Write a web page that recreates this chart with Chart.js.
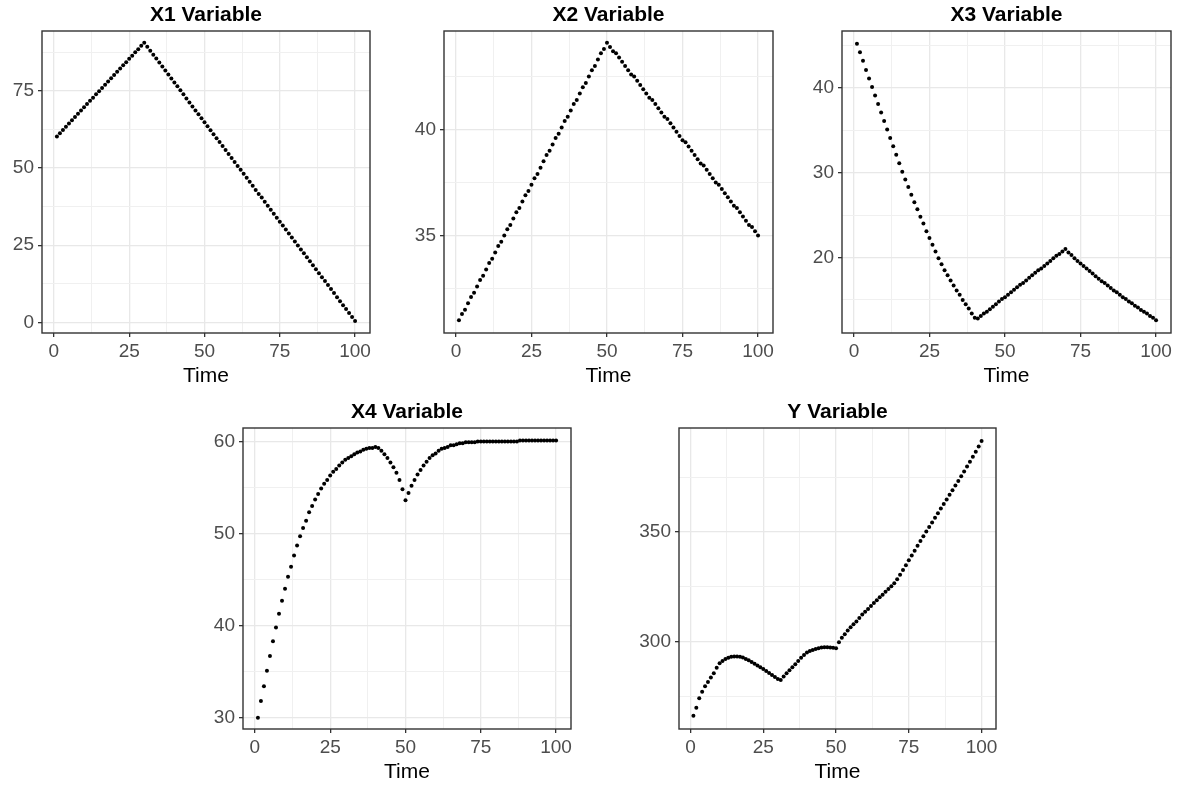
<!DOCTYPE html>
<html><head><meta charset="utf-8">
<script src="https://cdn.jsdelivr.net/npm/chart.js@4.4.1/dist/chart.umd.min.js"></script>
<style>
html,body{margin:0;padding:0;background:#fff;}
body{width:1185px;height:789px;overflow:hidden;position:relative;}
canvas{position:absolute;}
</style></head>
<body>
<script>
// ---- data ----
const TIME = [1,2,3,4,5,6,7,8,9,10,11,12,13,14,15,16,17,18,19,20,21,22,23,24,25,26,27,28,29,30,31,32,33,34,35,36,37,38,39,40,41,42,43,44,45,46,47,48,49,50,51,52,53,54,55,56,57,58,59,60,61,62,63,64,65,66,67,68,69,70,71,72,73,74,75,76,77,78,79,80,81,82,83,84,85,86,87,88,89,90,91,92,93,94,95,96,97,98,99,100];

const X1 = [60.2,61.2,62.3,63.3,64.4,65.4,66.5,67.5,68.6,69.6,
70.7,71.7,72.7,73.8,74.8,75.9,76.9,78.0,79.0,80.1,
81.1,82.2,83.2,84.2,85.3,86.3,87.4,88.4,89.5,90.5,
89.2,87.9,86.6,85.4,84.1,82.8,81.5,80.2,78.9,77.6,
76.4,75.1,73.8,72.5,71.2,69.9,68.6,67.4,66.1,64.8,
63.5,62.2,60.9,59.6,58.4,57.1,55.8,54.5,53.2,51.9,
50.6,49.4,48.1,46.8,45.5,44.2,42.9,41.6,40.4,39.1,
37.8,36.5,35.2,33.9,32.6,31.4,30.1,28.8,27.5,26.2,
24.9,23.6,22.4,21.1,19.8,18.5,17.2,15.9,14.6,13.4,
12.1,10.8,9.5,8.2,6.9,5.6,4.4,3.1,1.8,0.5];

const X2 = [31.0,31.3,31.5,31.8,32.1,32.3,32.6,32.9,33.1,33.4,
33.7,33.9,34.2,34.5,34.7,35.0,35.3,35.5,35.8,36.1,
36.3,36.6,36.9,37.1,37.4,37.7,37.9,38.2,38.5,38.8,
39.0,39.3,39.6,39.8,40.1,40.4,40.6,40.9,41.2,41.4,
41.7,42.0,42.2,42.5,42.8,43.0,43.3,43.6,43.8,44.1,
43.9,43.7,43.6,43.4,43.2,43.0,42.8,42.6,42.5,42.3,
42.1,41.9,41.7,41.5,41.4,41.2,41.0,40.8,40.6,40.5,
40.3,40.1,39.9,39.7,39.5,39.4,39.2,39.0,38.8,38.6,
38.4,38.3,38.1,37.9,37.7,37.5,37.4,37.2,37.0,36.8,
36.6,36.4,36.3,36.1,35.9,35.7,35.5,35.4,35.2,35.0];

const X3 = [45.2,44.2,43.2,42.1,41.1,40.1,39.1,38.1,37.1,36.1,
35.1,34.1,33.1,32.1,31.1,30.1,29.2,28.3,27.4,26.5,
25.7,24.8,24.0,23.1,22.3,21.5,20.7,19.9,19.2,18.5,
17.9,17.3,16.7,16.1,15.6,15.0,14.5,14.0,13.4,12.9,
12.8,13.1,13.4,13.6,13.9,14.2,14.5,14.8,15.1,15.3,
15.6,15.9,16.2,16.5,16.8,17.0,17.3,17.6,17.9,18.2,
18.5,18.7,19.0,19.3,19.6,19.9,20.2,20.4,20.7,21.0,
20.6,20.3,19.9,19.6,19.3,19.0,18.7,18.4,18.1,17.8,
17.5,17.2,17.0,16.7,16.4,16.1,15.9,15.6,15.3,15.1,
14.8,14.6,14.3,14.1,13.8,13.6,13.4,13.1,12.9,12.6];

const X4 = [30.0,31.8,33.4,35.1,36.7,38.3,39.8,41.3,42.7,44.0,
45.3,46.4,47.6,48.7,49.7,50.6,51.4,52.3,53.0,53.7,
54.3,54.9,55.4,55.8,56.3,56.7,57.0,57.4,57.7,58.0,
58.2,58.4,58.6,58.8,58.9,59.1,59.2,59.3,59.3,59.4,
59.3,59.0,58.6,58.2,57.7,57.2,56.6,55.8,54.8,53.6,
54.4,55.2,55.8,56.4,56.9,57.4,57.8,58.2,58.5,58.7,
59.0,59.2,59.3,59.4,59.6,59.6,59.7,59.8,59.8,59.9,
59.9,59.9,59.9,60.0,60.0,60.0,60.0,60.0,60.0,60.0,
60.0,60.0,60.0,60.0,60.0,60.0,60.0,60.1,60.1,60.1,
60.1,60.1,60.1,60.1,60.1,60.1,60.1,60.1,60.1,60.1];

const Y = [266.0,269.7,274.0,277.0,279.5,281.5,283.5,285.5,288.0,290.0,
291.0,292.0,292.5,293.0,293.1,293.1,293.0,292.6,292.0,291.4,
290.6,289.8,289.0,288.2,287.4,286.5,285.6,284.6,283.7,282.8,
282.4,284.0,285.4,286.8,288.2,289.6,291.0,292.5,293.8,294.9,
295.6,296.1,296.5,296.9,297.2,297.3,297.3,297.2,297.1,296.9,
299.6,301.6,303.3,305.0,306.4,307.8,309.1,310.7,312.3,313.5,
314.8,316.2,317.5,318.8,320.1,321.3,322.6,323.9,325.2,326.5,
328.4,330.4,332.6,334.8,337.0,339.2,341.4,343.6,345.8,348.0,
350.1,352.2,354.3,356.4,358.5,360.6,362.7,364.8,366.9,369.0,
371.1,373.2,375.4,377.6,379.8,382.0,384.3,386.6,389.0,391.5];

// tick labels (major) and minor grid breaks
const TIME_TICKS = [0,25,50,75,100];
const TIME_MINOR = [12.5,37.5,62.5,87.5];
const X1_TICKS = [0,25,50,75];     const X1_MINOR = [12.5,37.5,62.5,87.5];
const X2_TICKS = [35,40];          const X2_MINOR = [32.5,37.5,42.5];
const X3_TICKS = [20,30,40];       const X3_MINOR = [15,25,35,45];
const X4_TICKS = [30,40,50,60];    const X4_MINOR = [35,45,55];
const Y_TICKS = [300,350];         const Y_MINOR = [275,325,375];

const TITLES = ['X1 Variable','X2 Variable','X3 Variable','X4 Variable','Y Variable'];
const X_LABEL = 'Time';

// ---- layout (panel boxes in page pixels) ----
const layoutBoxes = [
  {l:42, r:370, t:31, b:333, ymin:-3.4, ymax:94.3},
  {l:444, r:773, t:31, b:333, ymin:30.4, ymax:44.65},
  {l:842, r:1171, t:31, b:333, ymin:11.1, ymax:46.7},
  {l:243, r:571, t:428, b:729, ymin:28.77, ymax:61.46},
  {l:679, r:996, t:428, b:729, ymin:260.0, ymax:397.4}
];
const SERIES = [X1,X2,X3,X4,Y];
const MAJORS = [X1_TICKS,X2_TICKS,X3_TICKS,X4_TICKS,Y_TICKS];
const MINORS = [X1_MINOR,X2_MINOR,X3_MINOR,X4_MINOR,Y_MINOR];

const FONT = "'Liberation Sans', Arial, Helvetica, sans-serif";
const YW = 45, PADR = 15, TOPH = 31, XH = 62;

const borderPlugin = {
  id: 'panelBorder',
  afterDraw(chart) {
    const {ctx, chartArea: a} = chart;
    ctx.save();
    ctx.strokeStyle = '#333333';
    ctx.lineWidth = 1.4;
    ctx.strokeRect(a.left, a.top, a.right - a.left, a.bottom - a.top);
    ctx.restore();
  }
};

function axisCfg(min, max, majors, minors, isX) {
  const all = majors.concat(minors).sort((a,b)=>a-b);
  const isMajor = v => majors.indexOf(v) !== -1;
  const cfg = {
    type: 'linear',
    min: min, max: max,
    afterBuildTicks: ax => { ax.ticks = all.map(v => ({value: v})); },
    ticks: {
      autoSkip: false,
      maxRotation: 0,
      padding: isX ? 3 : 4,
      color: '#4D4D4D',
      font: {family: FONT, size: 19},
      callback: v => isMajor(v) ? String(v) : ''
    },
    grid: {
      drawTicks: true,
      tickLength: 4,
      color: c => isMajor(c.tick.value) ? '#E8E8E8' : '#F0F0F0',
      lineWidth: c => isMajor(c.tick.value) ? 1.3 : 1.0,
      tickColor: c => isMajor(c.tick.value) ? '#333333' : 'rgba(0,0,0,0)',
      tickWidth: 1.3
    },
    border: {display: false}
  };
  if (isX) {
    cfg.title = {display: true, text: X_LABEL, color: '#000', font: {family: FONT, size: 21, lineHeight: 1}, padding: {top: 0, bottom: 8}};
    cfg.afterFit = s => { s.height = XH; };
  } else {
    cfg.afterFit = s => { s.width = YW; };
  }
  return cfg;
}

layoutBoxes.forEach((bx, i) => {
  const cv = document.createElement('canvas');
  const w = YW + (bx.r - bx.l) + PADR;
  const h = TOPH + (bx.b - bx.t) + XH;
  cv.width = w; cv.height = h;
  cv.style.left = (bx.l - YW) + 'px';
  cv.style.top = (bx.t - TOPH) + 'px';
  cv.style.width = w + 'px'; cv.style.height = h + 'px';
  document.body.appendChild(cv);
  const pts = TIME.map((t, k) => ({x: t, y: SERIES[i][k]}));
  new Chart(cv, {
    type: 'scatter',
    data: {datasets: [{data: pts, backgroundColor: '#000', borderWidth: 0, pointRadius: 2.0, pointHoverRadius: 2.0}]},
    options: {
      responsive: false,
      animation: false,
      devicePixelRatio: 1,
      layout: {padding: {left: 0, right: PADR, top: 0, bottom: 0}},
      plugins: {
        legend: {display: false},
        tooltip: {enabled: false},
        title: {display: true, text: TITLES[i], fullSize: false, color: '#000',
          font: {family: FONT, size: 21, weight: 'bold', lineHeight: 1},
          padding: {top: 5, bottom: 5}}
      },
      scales: {
        x: axisCfg(-3.95, 104.95, TIME_TICKS, TIME_MINOR, true),
        y: axisCfg(bx.ymin, bx.ymax, MAJORS[i], MINORS[i], false)
      }
    },
    plugins: [borderPlugin]
  });
});
</script>
</body></html>
